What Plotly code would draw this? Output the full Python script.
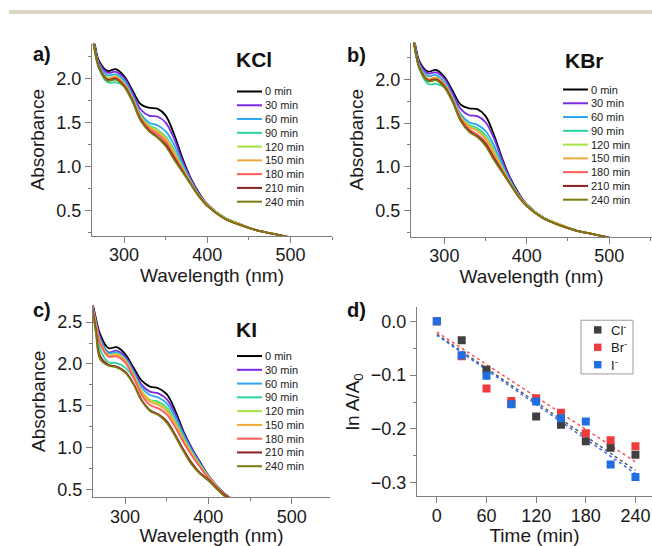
import plotly.graph_objects as go

FONT = "Liberation Sans, Arial, sans-serif"
W, H = 652, 546

# UV-vis spectra, absorbance
wavelength = [260, 265, 270, 280, 290, 300, 310, 320, 330, 340, 350,
              360, 370, 380, 390, 400, 420, 440, 460, 480, 500]
time_labels = ["0 min", "30 min", "60 min", "90 min", "120 min",
               "150 min", "180 min", "210 min", "240 min"]
curve_colors = ["#000000", "#7b2ae6", "#2ba6f4", "#2fd3a0", "#a3e23f",
                "#f2a93a", "#ff5b5b", "#8c2020", "#7c7a10"]

kcl_abs = [
    [2.65, 2.38, 2.20, 2.09, 2.11, 2.03, 1.87, 1.71, 1.67, 1.66, 1.58, 1.37, 1.10, 0.87, 0.70, 0.57, 0.42, 0.34, 0.27, 0.23, 0.19],
    [2.64, 2.36, 2.18, 2.07, 2.08, 2.01, 1.84, 1.65, 1.58, 1.57, 1.50, 1.32, 1.07, 0.86, 0.69, 0.57, 0.42, 0.34, 0.27, 0.23, 0.19],
    [2.63, 2.35, 2.16, 2.04, 2.05, 1.98, 1.81, 1.60, 1.50, 1.47, 1.40, 1.25, 1.03, 0.84, 0.68, 0.56, 0.42, 0.34, 0.27, 0.23, 0.19],
    [2.60, 2.30, 2.11, 1.96, 1.96, 1.92, 1.77, 1.57, 1.47, 1.42, 1.34, 1.19, 1.00, 0.82, 0.67, 0.56, 0.42, 0.34, 0.27, 0.23, 0.19],
    [2.62, 2.33, 2.14, 2.01, 2.03, 1.95, 1.78, 1.57, 1.46, 1.41, 1.33, 1.17, 0.99, 0.82, 0.67, 0.56, 0.42, 0.34, 0.27, 0.23, 0.19],
    [2.62, 2.33, 2.14, 2.00, 2.02, 1.94, 1.77, 1.56, 1.45, 1.39, 1.31, 1.15, 0.98, 0.81, 0.67, 0.56, 0.41, 0.34, 0.27, 0.23, 0.19],
    [2.61, 2.32, 2.13, 1.99, 2.01, 1.93, 1.76, 1.55, 1.43, 1.37, 1.28, 1.12, 0.96, 0.81, 0.66, 0.55, 0.41, 0.33, 0.27, 0.23, 0.19],
    [2.61, 2.32, 2.13, 1.99, 2.00, 1.92, 1.75, 1.53, 1.41, 1.34, 1.25, 1.10, 0.95, 0.80, 0.66, 0.55, 0.41, 0.33, 0.27, 0.23, 0.19],
    [2.60, 2.31, 2.12, 1.98, 1.99, 1.91, 1.74, 1.52, 1.40, 1.33, 1.23, 1.08, 0.94, 0.80, 0.66, 0.55, 0.41, 0.33, 0.27, 0.23, 0.19],
]

kbr_abs = [
    [2.65, 2.38, 2.20, 2.09, 2.11, 2.03, 1.87, 1.71, 1.67, 1.66, 1.58, 1.37, 1.10, 0.87, 0.70, 0.57, 0.42, 0.34, 0.27, 0.23, 0.19],
    [2.64, 2.36, 2.18, 2.07, 2.08, 2.01, 1.84, 1.66, 1.59, 1.58, 1.51, 1.33, 1.08, 0.86, 0.69, 0.57, 0.42, 0.34, 0.27, 0.23, 0.19],
    [2.63, 2.35, 2.16, 2.04, 2.05, 1.97, 1.80, 1.60, 1.51, 1.48, 1.41, 1.25, 1.03, 0.84, 0.68, 0.56, 0.42, 0.34, 0.27, 0.23, 0.19],
    [2.60, 2.30, 2.11, 1.95, 1.95, 1.91, 1.77, 1.57, 1.48, 1.44, 1.36, 1.20, 1.00, 0.82, 0.67, 0.56, 0.42, 0.34, 0.27, 0.23, 0.19],
    [2.62, 2.33, 2.14, 2.01, 2.02, 1.95, 1.78, 1.57, 1.47, 1.42, 1.34, 1.18, 0.99, 0.82, 0.67, 0.56, 0.42, 0.34, 0.27, 0.23, 0.19],
    [2.62, 2.33, 2.14, 2.01, 2.02, 1.94, 1.77, 1.56, 1.46, 1.41, 1.32, 1.16, 0.98, 0.81, 0.67, 0.56, 0.41, 0.34, 0.27, 0.23, 0.19],
    [2.61, 2.32, 2.13, 1.99, 2.00, 1.93, 1.76, 1.55, 1.43, 1.37, 1.28, 1.12, 0.96, 0.81, 0.66, 0.55, 0.41, 0.33, 0.27, 0.23, 0.19],
    [2.61, 2.32, 2.13, 1.99, 2.00, 1.92, 1.75, 1.53, 1.41, 1.35, 1.26, 1.10, 0.95, 0.80, 0.66, 0.55, 0.41, 0.33, 0.27, 0.23, 0.19],
    [2.60, 2.31, 2.12, 1.98, 1.99, 1.91, 1.74, 1.52, 1.40, 1.34, 1.24, 1.08, 0.94, 0.80, 0.66, 0.55, 0.41, 0.33, 0.27, 0.23, 0.19],
]

ki_abs = [
    [2.78, 2.55, 2.36, 2.19, 2.20, 2.12, 1.96, 1.80, 1.73, 1.71, 1.64, 1.45, 1.20, 1.00, 0.83, 0.67, 0.45, 0.33, 0.27, 0.23, 0.19],
    [2.76, 2.52, 2.32, 2.14, 2.16, 2.09, 1.93, 1.75, 1.67, 1.65, 1.58, 1.41, 1.18, 0.99, 0.82, 0.67, 0.45, 0.33, 0.27, 0.23, 0.19],
    [2.75, 2.50, 2.30, 2.13, 2.14, 2.07, 1.91, 1.72, 1.63, 1.60, 1.53, 1.37, 1.16, 0.97, 0.81, 0.66, 0.45, 0.33, 0.27, 0.23, 0.19],
    [2.72, 2.42, 2.18, 2.02, 2.01, 1.96, 1.84, 1.66, 1.57, 1.55, 1.48, 1.33, 1.13, 0.95, 0.80, 0.66, 0.44, 0.33, 0.27, 0.23, 0.19],
    [2.74, 2.48, 2.27, 2.11, 2.12, 2.05, 1.88, 1.68, 1.57, 1.53, 1.46, 1.31, 1.11, 0.94, 0.79, 0.65, 0.44, 0.33, 0.27, 0.23, 0.19],
    [2.74, 2.47, 2.26, 2.10, 2.11, 2.04, 1.87, 1.66, 1.55, 1.51, 1.44, 1.29, 1.10, 0.93, 0.78, 0.65, 0.44, 0.33, 0.27, 0.23, 0.19],
    [2.73, 2.46, 2.25, 2.09, 2.09, 2.02, 1.85, 1.63, 1.51, 1.47, 1.40, 1.25, 1.07, 0.91, 0.77, 0.64, 0.44, 0.33, 0.27, 0.23, 0.19],
    [2.71, 2.40, 2.10, 1.99, 1.97, 1.91, 1.77, 1.57, 1.45, 1.40, 1.32, 1.16, 0.98, 0.82, 0.70, 0.62, 0.43, 0.33, 0.27, 0.23, 0.19],
    [2.70, 2.38, 2.06, 1.98, 1.96, 1.90, 1.76, 1.56, 1.44, 1.39, 1.30, 1.14, 0.96, 0.80, 0.69, 0.61, 0.42, 0.33, 0.27, 0.23, 0.19],
]

# kinetics, panel d
time_min = [0, 30, 60, 90, 120, 150, 180, 210, 240]
ln_cl = [0.0, -0.035, -0.090, -0.153, -0.177, -0.192, -0.223, -0.235, -0.248]
ln_br = [0.0, -0.065, -0.125, -0.148, -0.143, -0.170, -0.208, -0.221, -0.232]
ln_i = [0.0, -0.063, -0.101, -0.154, -0.149, -0.180, -0.186, -0.266, -0.289]
fit_time = [0, 240]
fit_cl = [-0.024, -0.277]
fit_br = [-0.020, -0.261]
fit_i = [-0.026, -0.283]
ion_names = ["Cl<sup>-</sup>", "Br<sup>-</sup>", "I<sup>-</sup>"]
ion_colors = ["#404040", "#ef3b3b", "#1f6fe0"]
fit_colors = ["#555555", "#ff5050", "#3a6cf0"]


def px(x):
    return x / W


def py(y):
    return 1 - y / H


fig = go.Figure()

panels = [("x", "y", kcl_abs), ("x2", "y2", kbr_abs), ("x3", "y3", ki_abs)]
for xa, ya, spectra in panels:
    for k, absorb in enumerate(spectra):
        fig.add_trace(go.Scatter(
            x=wavelength, y=absorb, mode="lines", xaxis=xa, yaxis=ya,
            line=dict(color=curve_colors[k], width=1.8, shape="spline"),
            name=time_labels[k], showlegend=False, hoverinfo="skip",
        ))

for fit, fc in zip([fit_cl, fit_br, fit_i], fit_colors):
    fig.add_trace(go.Scatter(
        x=fit_time, y=fit, mode="lines", xaxis="x4", yaxis="y4",
        line=dict(color=fc, width=1.5, dash="dot"), showlegend=False,
    ))
for series, mc, nm in zip([ln_cl, ln_br, ln_i], ion_colors, ion_names):
    fig.add_trace(go.Scatter(
        x=time_min, y=series, mode="markers", xaxis="x4", yaxis="y4",
        marker=dict(symbol="square", size=8, color=mc, line=dict(width=0)),
        name=nm, showlegend=False,
    ))

axis_common = dict(
    showline=True, linecolor="#7f7f7f", linewidth=1, ticks="outside",
    ticklen=6, tickwidth=1, tickcolor="#7f7f7f", showgrid=False,
    zeroline=False, tickfont=dict(size=18, color="#1a1a1a", family=FONT),
    title_font=dict(size=19, color="#1a1a1a", family=FONT),
)
minor = lambda d: dict(dtick=d, ticks="outside", ticklen=3, tickcolor="#7f7f7f", showgrid=False)


def wl_axis(dom, rng, anchor):
    return dict(axis_common, domain=dom, range=rng, anchor=anchor,
                tickvals=[300, 400, 500], minor=dict(minor(50), tick0=0),
                ticklabelstandoff=-3,
                title=dict(text="Wavelength (nm)", standoff=0))


def abs_axis(dom, rng, anchor):
    return dict(axis_common, domain=dom, range=rng, anchor=anchor,
                tick0=0, dtick=0.5, tickformat=".1f",
                minor=dict(minor(0.25), tick0=0),
                title=dict(text="Absorbance", standoff=6))


fig.update_layout(
    width=W, height=H, margin=dict(l=0, r=0, t=0, b=0),
    paper_bgcolor="white", plot_bgcolor="white",
    font=dict(family=FONT, color="#1a1a1a"),
    xaxis=wl_axis([px(92), px(332)], [261.4, 550], "y"),
    yaxis=abs_axis([py(237), py(44)], [0.21, 2.40], "x"),
    xaxis2=wl_axis([px(411), 1.0], [259.5, 552], "y2"),
    yaxis2=abs_axis([py(238), py(43)], [0.20, 2.42], "x2"),
    xaxis3=wl_axis([px(93), px(330)], [261.6, 546], "y3"),
    yaxis3=abs_axis([py(500), py(307)], [0.41, 2.70], "x3"),
    xaxis4=dict(axis_common, domain=[px(417), 1.0], range=[-24, 260], anchor="y4",
                tickvals=[0, 60, 120, 180, 240], ticklabelstandoff=-3,
                title=dict(text="Time (min)", standoff=0)),
    yaxis4=dict(axis_common, domain=[py(499), py(309)], range=[-0.325, 0.026],
                anchor="x4", tick0=0, dtick=0.1, tickformat=".1f",
                minor=dict(minor(0.05), tick0=0),
                title=dict(text="ln A/A<sub>0</sub>", standoff=6)),
)

shapes = [dict(type="line", xref="paper", yref="paper", x0=px(9), x1=1,
               y0=py(12), y1=py(12), line=dict(color="#dcd6c4", width=4))]
annotations = []

# panel tags and salt names
for txt, x, y, size in [("a)", 42, 54, 20), ("b)", 356, 55, 20), ("c)", 42, 312, 20),
                        ("d)", 356, 312, 20), ("KCl", 254, 60, 21), ("KBr", 584, 61, 21),
                        ("KI", 247, 331, 21)]:
    annotations.append(dict(text="<b>%s</b>" % txt, x=px(x), y=py(y), xref="paper",
                            yref="paper", showarrow=False, xanchor="center",
                            yanchor="middle", font=dict(size=size, color="#111111")))

# line legends for the spectra
for lx, ly in [(237, 92), (563, 90), (237, 358)]:
    for k, lab in enumerate(time_labels):
        yy = ly + k * 13.85
        shapes.append(dict(type="line", xref="paper", yref="paper", x0=px(lx),
                           x1=px(lx + 25), y0=py(yy), y1=py(yy),
                           line=dict(color=curve_colors[k], width=2)))
        annotations.append(dict(text=lab, x=px(lx + 26), y=py(yy), xref="paper",
                                yref="paper", showarrow=False, xanchor="left",
                                yanchor="middle", font=dict(size=11, color="#1a1a1a")))

# boxed legend for panel d
shapes.append(dict(type="rect", xref="paper", yref="paper", x0=px(581), x1=px(633),
                   y0=py(376), y1=py(322), line=dict(color="#9a9a9a", width=1),
                   fillcolor="white"))
for k, (nm, mc) in enumerate(zip(ion_names, ion_colors)):
    yy = 331.7 + k * 17.5
    shapes.append(dict(type="rect", xref="paper", yref="paper", x0=px(594), x1=px(601.5),
                       y0=py(yy + 3.7), y1=py(yy - 3.7), line=dict(width=0), fillcolor=mc))
    annotations.append(dict(text=nm, x=px(609), y=py(yy), xref="paper", yref="paper",
                            showarrow=False, xanchor="left", yanchor="middle",
                            font=dict(size=13, color="#1a1a1a")))

fig.update_layout(shapes=shapes, annotations=annotations)
fig.write_html("out.html", config={"displayModeBar": False},
               post_script="document.body.style.margin='0';")
